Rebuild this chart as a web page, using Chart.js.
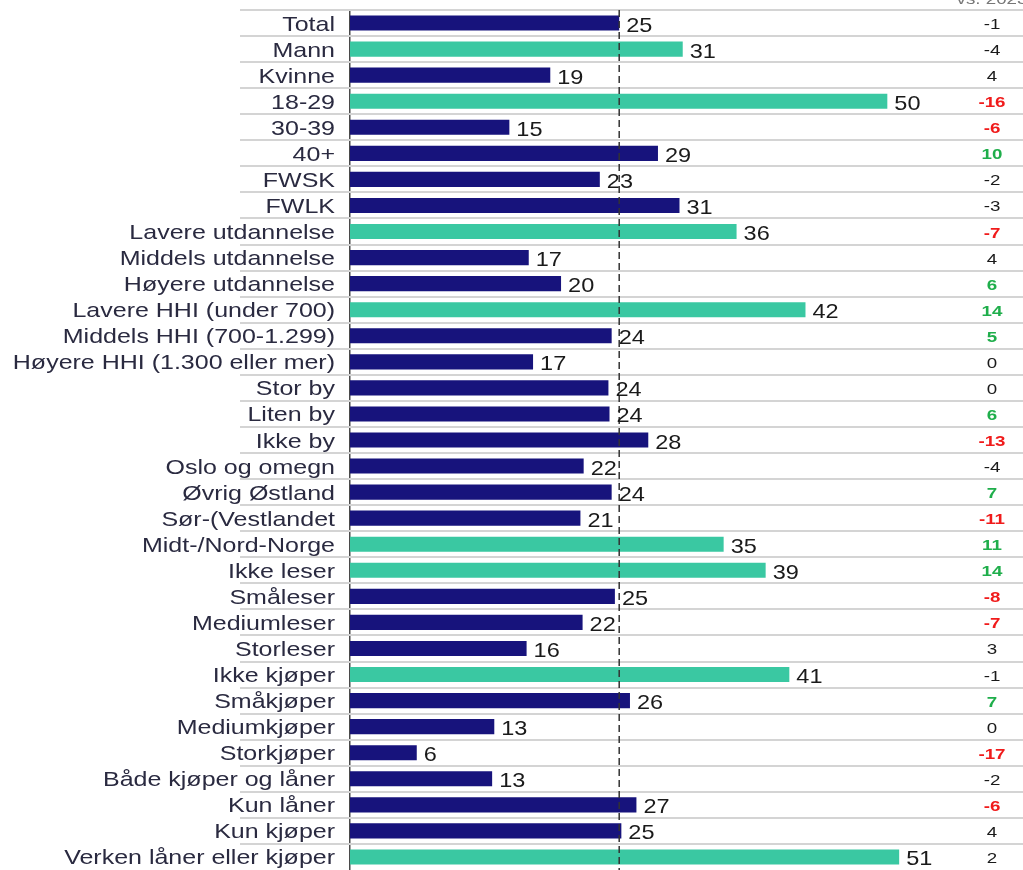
<!DOCTYPE html>
<html>
<head>
<meta charset="utf-8">
<script src="https://cdn.jsdelivr.net/npm/chart.js@4"></script>
<style>
  html, body { margin: 0; padding: 0; background: #fff; }
  #wrap { width: 1023px; height: 870px; position: relative; }
</style>
</head>
<body>
<div id="wrap"><canvas id="myChart"></canvas></div>
<script>
// data
const categories = ['Total', 'Mann', 'Kvinne', '18-29', '30-39', '40+', 'FWSK', 'FWLK',
  'Lavere utdannelse', 'Middels utdannelse', 'Høyere utdannelse',
  'Lavere HHI (under 700)', 'Middels HHI (700-1.299)', 'Høyere HHI (1.300 eller mer)',
  'Stor by', 'Liten by', 'Ikke by', 'Oslo og omegn', 'Øvrig Østland', 'Sør-(Vestlandet',
  'Midt-/Nord-Norge', 'Ikke leser', 'Småleser', 'Mediumleser', 'Storleser',
  'Ikke kjøper', 'Småkjøper', 'Mediumkjøper', 'Storkjøper', 'Både kjøper og låner',
  'Kun låner', 'Kun kjøper', 'Verken låner eller kjøper'];
const values = [25, 30.9, 18.6, 49.9, 14.8, 28.6, 23.2, 30.6, 35.9, 16.6, 19.6, 42.3, 24.3, 17, 24, 24.1, 27.7, 21.7, 24.3, 21.4,
  34.7, 38.6, 24.6, 21.6, 16.4, 40.8, 26, 13.4, 6.2, 13.2, 26.6, 25.2, 51];
const changeVs2023 = [-1, -4, 4, -16, -6, 10, -2, -3, -7, 4, 6, 14, 5, 0, 0, 6, -13, -4, 7, -11,
  11, 14, -8, -7, 3, -1, 7, 0, -17, -2, -6, 4, 2];
// 1 = significant up, -1 = significant down, 0 = not significant
const significance = [0, 0, 0, -1, -1, 1, 0, 0, -1, 0, 1, 1, 1, 0, 0, 1, -1, 0, 1, -1,
  1, 1, -1, -1, 0, 0, 1, 0, -1, 0, -1, 0, 0];
// bars above total shown in teal
const highlighted = [0, 1, 0, 1, 0, 0, 0, 0, 1, 0, 0, 1, 0, 0, 0, 0, 0, 0, 0, 0,
  1, 1, 0, 0, 0, 1, 0, 0, 0, 0, 0, 0, 1];
const totalValue = 25;
const columnHeader = 'vs. 2023';

const NAVY = '#17137c';
const TEAL = '#3ac8a2';
const FONT = '"Liberation Sans", Arial, sans-serif';

// text is a bit wide in the original, so stretch it horizontally
function wideText(ctx, text, x, y, align, stretch) {
  ctx.save();
  ctx.translate(x, y);
  ctx.scale(stretch, 1);
  ctx.textAlign = align;
  ctx.fillText(text, 0, 0);
  ctx.restore();
}

const extras = {
  id: 'extras',
  beforeDatasetsDraw(chart) {
    const ctx = chart.ctx;
    const y = chart.scales.y;
    const step = (y.getPixelForValue(1) - y.getPixelForValue(0));
    ctx.save();
    ctx.strokeStyle = '#d4d4d4';
    ctx.lineWidth = 2;
    for (let i = 0; i < categories.length; i++) {
      const py = Math.round(y.getPixelForValue(i) - step / 2);
      ctx.beginPath();
      ctx.moveTo(240, py);
      ctx.lineTo(chart.width, py);
      ctx.stroke();
    }
    ctx.restore();
  },
  afterDatasetsDraw(chart) {
    const ctx = chart.ctx;
    const x = chart.scales.x;
    const y = chart.scales.y;
    const area = chart.chartArea;
    ctx.save();
    // dashed line at total
    const tx = x.getPixelForValue(totalValue);
    ctx.strokeStyle = '#333';
    ctx.lineWidth = 1.5;
    ctx.setLineDash([7, 4]);
    ctx.beginPath();
    ctx.moveTo(tx, area.top);
    ctx.lineTo(tx, area.bottom);
    ctx.stroke();
    ctx.setLineDash([]);
    ctx.textBaseline = 'alphabetic';
    // category labels
    ctx.fillStyle = '#2a2a40';
    ctx.font = '21px ' + FONT;
    categories.forEach((c, i) => {
      wideText(ctx, c, 335, y.getPixelForValue(i) + 7.5, 'right', 1.19);
    });
    // value labels
    ctx.fillStyle = '#1a1a1a';
    ctx.font = '21px ' + FONT;
    values.forEach((v, i) => {
      wideText(ctx, String(Math.round(v)), x.getPixelForValue(v) + 7, y.getPixelForValue(i) + 8.5, 'left', 1.12);
    });
    // change column
    changeVs2023.forEach((c, i) => {
      const s = significance[i];
      ctx.fillStyle = s > 0 ? '#1fae4b' : s < 0 ? '#f01b1b' : '#1a1a1a';
      ctx.font = (s !== 0 ? 'bold ' : '') + '15px ' + FONT;
      wideText(ctx, String(c), 992, y.getPixelForValue(i) + 6, 'center', 1.25);
    });
    ctx.fillStyle = '#777';
    ctx.font = '15px ' + FONT;
    wideText(ctx, columnHeader, 992, 4, 'center', 1.25);
    ctx.restore();
  }
};

const config = {
  type: 'bar',
  data: {
    labels: categories,
    datasets: [{
      data: values,
      backgroundColor: highlighted.map(h => h ? TEAL : NAVY),
      barPercentage: 0.58,
      categoryPercentage: 1,
      borderWidth: 0
    }]
  },
  options: {
    indexAxis: 'y',
    responsive: false,
    animation: false,
    layout: { padding: { top: 10, right: 0, bottom: 0, left: 0 } },
    plugins: {
      legend: { display: false },
      tooltip: { enabled: false }
    },
    scales: {
      x: {
        display: false,
        min: 0,
        max: 62.5
      },
      y: {
        afterFit: (scale) => {
          scale.width = 350;
          scale.paddingTop = 0;
          scale.paddingBottom = 0;
        },
        grid: { display: false, drawTicks: false },
        border: { display: true, color: '#4a4a4a', width: 1.5 },
        ticks: { display: false }
      }
    }
  },
  plugins: [extras]
};

const canvas = document.getElementById('myChart');
canvas.width = 1023;
canvas.height = 870;
const myChart = new Chart(canvas, config);
</script>
</body>
</html>
